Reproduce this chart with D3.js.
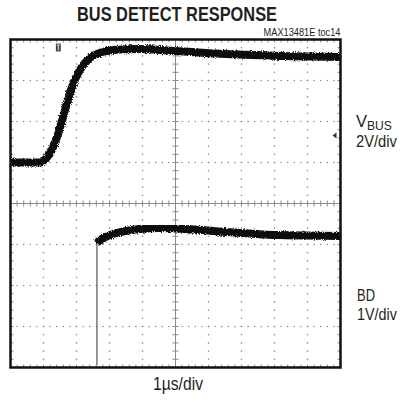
<!DOCTYPE html>
<html>
  <head>
    <style>
      html,
      body {
        margin: 0;
        padding: 0;
        background: #fff;
      }
      svg text {
        font-family: "Liberation Sans", Arial, sans-serif;
        fill: #231f20;
      }
    </style>
  </head>
  <body>
    <div id="viz"></div>
    <script src="https://d3js.org/d3.v7.min.js"></script>
    <script>
      // time in us, volts
      const vbusTime = [0, 0.9, 1.05, 1.2, 1.45, 1.65, 1.85, 2.1, 2.4, 2.7, 3.1, 3.9, 5.0, 6.35, 8.15, 10];
      const vbusVolts = [0, 0, 0.15, 0.46, 1.44, 2.56, 3.63, 4.51, 5.1, 5.34, 5.49, 5.54, 5.44, 5.3, 5.2, 5.15];

      const bdLowTime = [0, 2.62];
      const bdLowVolts = [0, 0];
      const bdHighTime = [2.62, 2.71, 3.02, 3.32, 3.92, 4.53, 5.44, 6.65, 8.17, 10];
      const bdHighVolts = [2.98, 3.05, 3.17, 3.24, 3.32, 3.34, 3.31, 3.24, 3.17, 3.15];

      const xDivs = 10;
      const yDivs = 8;
      const vbusOffset = 5; // divisions from bottom
      const vbusScale = 2; // V/div
      const bdOffset = 0.06;
      const bdScale = 1;

      const width = 402;
      const height = 402;
      const x0 = 10.5, x1 = 340.5, y0 = 39.5, y1 = 367.5;

      const svg = d3.select("#viz").append("svg").attr("width", width).attr("height", height);

      const x = d3.scaleLinear().domain([0, xDivs]).range([x0, x1]);
      const y = d3.scaleLinear().domain([0, yDivs]).range([y1, y0]);

      // rough edge for the noisy traces
      const defs = svg.append("defs");
      const filt = defs.append("filter").attr("id", "noise").attr("x", "-5%").attr("y", "-20%").attr("width", "110%").attr("height", "140%");
      filt.append("feTurbulence").attr("type", "fractalNoise").attr("baseFrequency", "1.1").attr("numOctaves", 2).attr("seed", 3).attr("result", "t");
      filt.append("feDisplacementMap").attr("in", "SourceGraphic").attr("in2", "t").attr("scale", 4).attr("xChannelSelector", "R").attr("yChannelSelector", "G");

      // grid
      const grid = svg.append("g").attr("stroke", "#8a8a8a");
      const dotR = 0.8;
      for (let i = 1; i < xDivs; i++) {
        if (i === xDivs / 2) continue;
        for (let j = 1; j < yDivs * 5; j++) {
          grid.append("circle").attr("cx", x(i)).attr("cy", y(j / 5)).attr("r", dotR).attr("fill", "#8a8a8a").attr("stroke", "none");
        }
      }
      for (let j = 1; j < yDivs; j++) {
        if (j === yDivs / 2) continue;
        for (let i = 1; i < xDivs * 5; i++) {
          grid.append("circle").attr("cx", x(i / 5)).attr("cy", y(j)).attr("r", dotR).attr("fill", "#8a8a8a").attr("stroke", "none");
        }
      }
      // center axes with minor ticks
      grid.append("line").attr("x1", x0).attr("x2", x1).attr("y1", y(4)).attr("y2", y(4)).attr("stroke-width", 1);
      grid.append("line").attr("x1", x(5)).attr("x2", x(5)).attr("y1", y0).attr("y2", y1).attr("stroke-width", 1);
      for (let i = 1; i < xDivs * 5; i++) {
        const xx = x(i / 5);
        grid.append("line").attr("x1", xx).attr("x2", xx).attr("y1", y(4) - 3).attr("y2", y(4) + 3);
        grid.append("line").attr("x1", xx).attr("x2", xx).attr("y1", y1).attr("y2", y1 - 3);
        grid.append("line").attr("x1", xx).attr("x2", xx).attr("y1", y0).attr("y2", y0 + 3);
      }
      for (let j = 1; j < yDivs * 5; j++) {
        const yy = y(j / 5);
        grid.append("line").attr("x1", x(5) - 3).attr("x2", x(5) + 3).attr("y1", yy).attr("y2", yy);
        grid.append("line").attr("x1", x0).attr("x2", x0 + 3).attr("y1", yy).attr("y2", yy);
        grid.append("line").attr("x1", x1).attr("x2", x1 - 3).attr("y1", yy).attr("y2", yy);
      }

      // traces
      const vbusLine = d3.line()
        .x((d) => x(d[0]))
        .y((d) => y(vbusOffset + d[1] / vbusScale))
        .curve(d3.curveMonotoneX);
      const bdLine = d3.line()
        .x((d) => x(d[0]))
        .y((d) => y(bdOffset + d[1] / bdScale))
        .curve(d3.curveMonotoneX);

      const traces = svg.append("g").attr("fill", "none").attr("stroke", "#111");

      traces.append("path")
        .attr("d", vbusLine(d3.zip(vbusTime, vbusVolts)))
        .attr("stroke-width", 8)
        .attr("filter", "url(#noise)");

      traces.append("path")
        .attr("d", bdLine(d3.zip(bdLowTime, bdLowVolts)))
        .attr("stroke-width", 4)
        .attr("filter", "url(#noise)");

      traces.append("line")
        .attr("x1", x(bdLowTime[1])).attr("x2", x(bdHighTime[0]))
        .attr("y1", y(bdOffset + bdLowVolts[1] / bdScale))
        .attr("y2", y(bdOffset + bdHighVolts[0] / bdScale))
        .attr("stroke", "#555").attr("stroke-width", 1.2);

      traces.append("path")
        .attr("d", bdLine(d3.zip(bdHighTime, bdHighVolts)))
        .attr("stroke-width", 8)
        .attr("filter", "url(#noise)");

      // frame
      svg.append("rect")
        .attr("x", x0).attr("y", y0).attr("width", x1 - x0).attr("height", y1 - y0)
        .attr("fill", "none").attr("stroke", "#111").attr("stroke-width", 2.5);

      // trigger marker
      const trig = svg.append("g").attr("transform", `translate(${x(1.45)},${y0 + 8})`);
      trig.append("rect").attr("x", -2.5).attr("y", -4).attr("width", 5).attr("height", 8).attr("rx", 1).attr("fill", "#444");
      trig.append("path").attr("d", "M-1.5,-2.5H1.5M0,-2.5V3").attr("stroke", "#ddd").attr("stroke-width", 1);

      // channel marker
      svg.append("path")
        .attr("d", `M${x1 - 8},${y(vbusOffset) - 27}l4,-3v6z`)
        .attr("fill", "#333");

      // condensed text: squeeze horizontally to the width seen in the chart
      const label = (tx, ty, str, size, len, anchor, weight) => {
        const t = svg.append("text")
          .attr("text-anchor", anchor || "start")
          .attr("font-size", size)
          .attr("font-weight", weight || "normal")
          .text(str);
        const s = len / t.node().getComputedTextLength();
        t.attr("transform", `translate(${tx},${ty}) scale(${s},1)`);
        return t;
      };

      label(177, 21, "BUS DETECT RESPONSE", 20, 200, "middle", "bold");
      label(x1, 36, "MAX13481E toc14", 10.5, 77, "end");

      label(356, 127, "V", 16, 11);
      label(367, 129.5, "BUS", 12, 25);
      label(356, 146.5, "2V/div", 16, 41);

      label(357, 301, "BD", 16, 18);
      label(357, 319.5, "1V/div", 16, 40);

      label(178, 390, "1\u00b5s/div", 18, 50, "middle");
    </script>
  </body>
</html>
